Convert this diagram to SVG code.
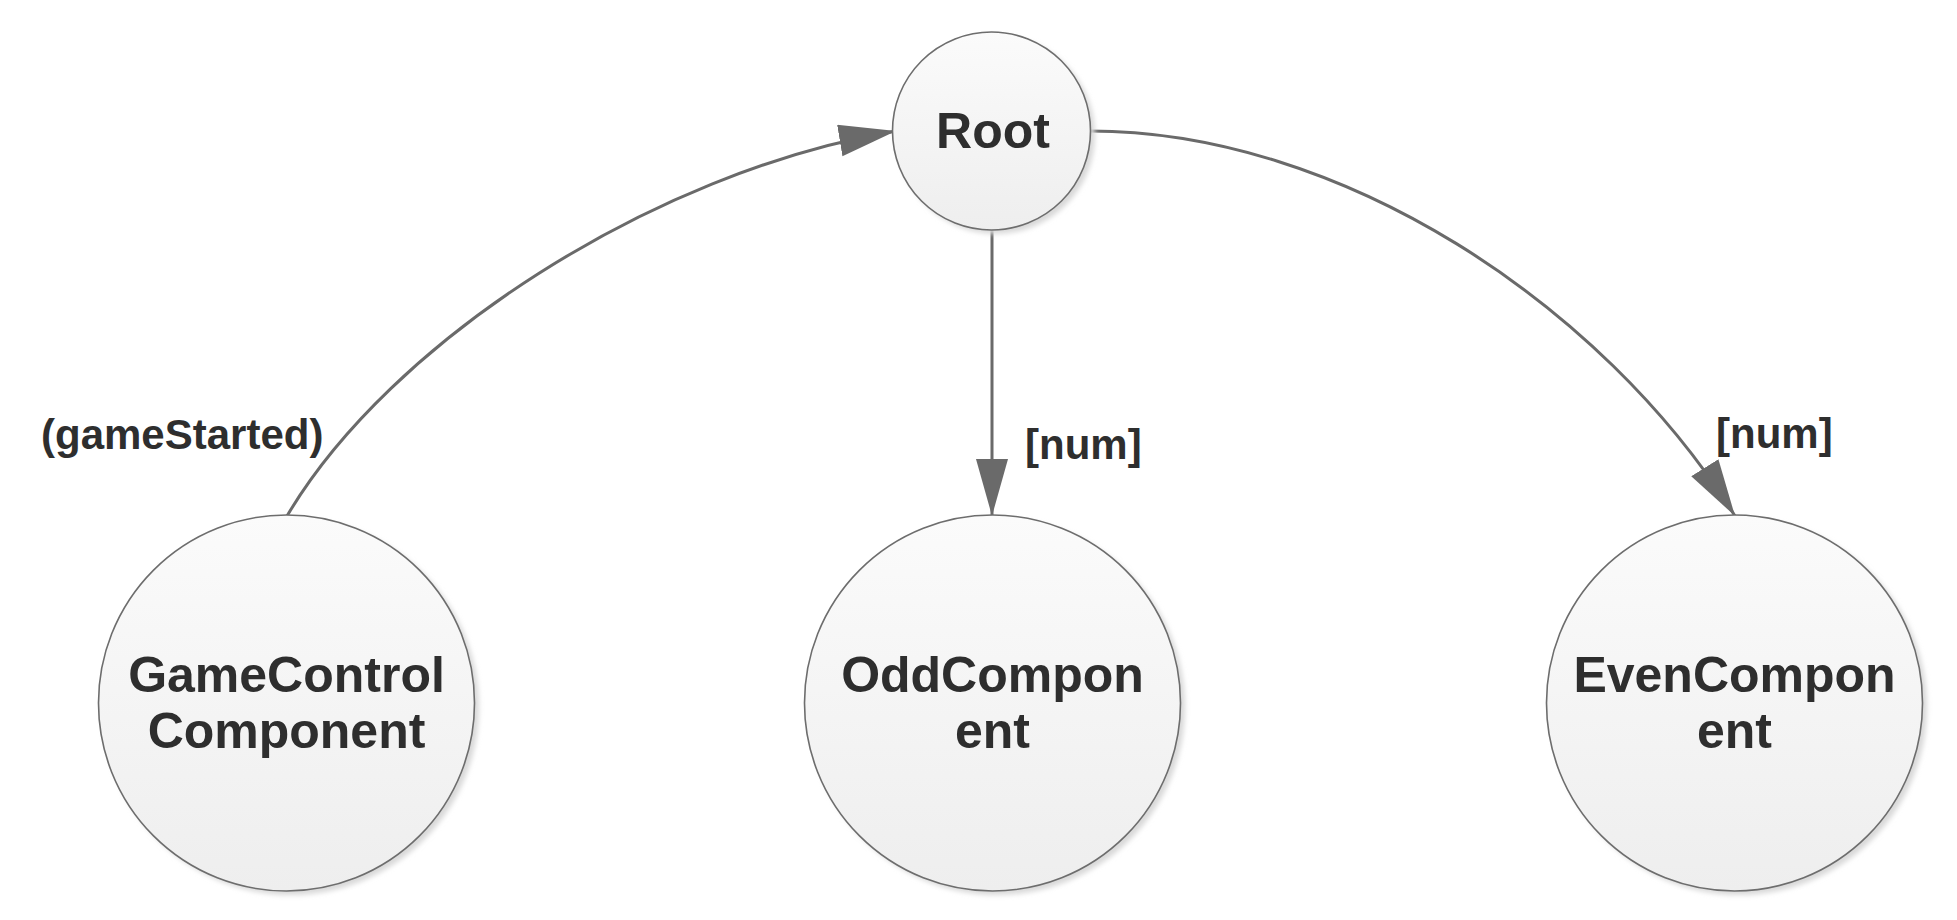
<svg xmlns="http://www.w3.org/2000/svg" width="1957" height="920" viewBox="0 0 1957 920">
<defs>
<linearGradient id="fillGrad" x1="0" y1="0" x2="0" y2="1">
<stop offset="0" stop-color="#fbfbfb"/>
<stop offset="1" stop-color="#eeeeee"/>
</linearGradient>
<filter id="shadow" x="-10%" y="-10%" width="130%" height="130%">
<feGaussianBlur stdDeviation="2.5"/>
</filter>
<marker id="arrow" markerUnits="userSpaceOnUse" markerWidth="60" markerHeight="34" refX="57" refY="16" orient="auto">
<path d="M0,0 L57,16 L0,32 Z" fill="#6a6a6a"/>
</marker>
</defs>
<style>
.shadow { fill: #d9d9d9; filter: url(#shadow); }
.node { fill: url(#fillGrad); stroke: #6d6d6d; stroke-width: 1.6; }
.label { font-family: "Liberation Sans", Arial, sans-serif; font-weight: bold; font-size: 50px; fill: #2e2e2e; text-anchor: middle; }
.elabel { font-family: "Liberation Sans", Arial, sans-serif; font-weight: bold; font-size: 42px; fill: #2e2e2e; }
.edge { fill: none; stroke: #6a6a6a; stroke-width: 3; marker-end: url(#arrow); }
</style>
<rect width="1957" height="920" fill="#ffffff"/>

<g id="connectors">
<path id="e-game-root" class="edge" d="M287,516 C389,343 651,172 896,131"/>
<path id="e-root-odd" class="edge" d="M992,230 L992,516"/>
<path id="e-root-even" class="edge" d="M1090,131 C1340,131 1602,303 1735,516"/>
<text class="elabel" x="41" y="449">(gameStarted)</text>
<text class="elabel" x="1025" y="459">[num]</text>
<text class="elabel" x="1716" y="448">[num]</text>
</g>

<g id="node-root">
<circle class="shadow" cx="996" cy="135" r="99"/>
<circle class="node" cx="991.5" cy="131" r="99"/>
<text class="label" x="993" y="148">Root</text>
</g>

<g id="node-gamecontrol">
<circle class="shadow" cx="291" cy="707" r="188"/>
<circle class="node" cx="286.5" cy="703" r="188"/>
<text class="label" x="286.5" y="692">GameControl</text>
<text class="label" x="286.5" y="748">Component</text>
</g>

<g id="node-odd">
<circle class="shadow" cx="997" cy="707" r="188"/>
<circle class="node" cx="992.5" cy="703" r="188"/>
<text class="label" x="992.5" y="692">OddCompon</text>
<text class="label" x="992.5" y="748">ent</text>
</g>

<g id="node-even">
<circle class="shadow" cx="1739" cy="707" r="188"/>
<circle class="node" cx="1734.5" cy="703" r="188"/>
<text class="label" x="1734.5" y="692">EvenCompon</text>
<text class="label" x="1734.5" y="748">ent</text>
</g>
</svg>
